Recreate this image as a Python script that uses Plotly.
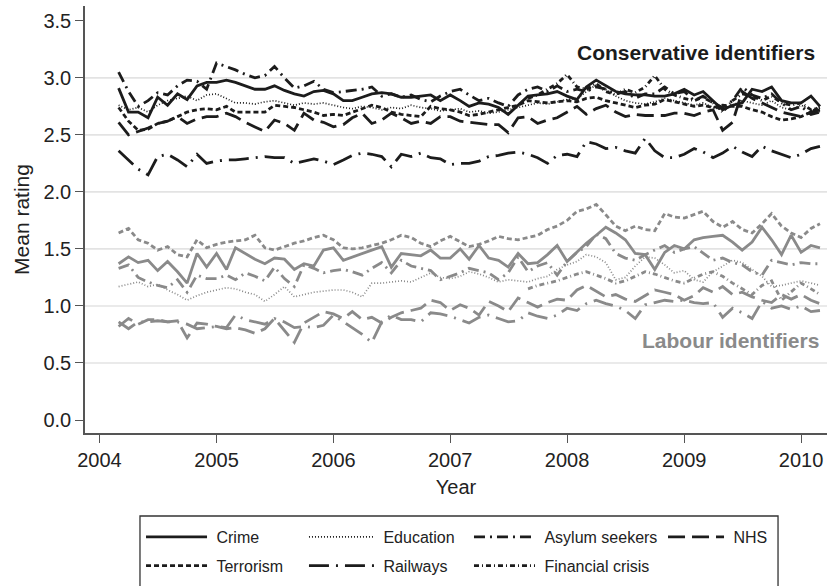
import pandas as pd
import plotly.graph_objects as go

# Monthly survey waves, March 2004 - March 2010
months = pd.date_range("2004-03-01", periods=73, freq="MS")
# Financial crisis item only asked from September 2007
fc_months = pd.date_range("2007-09-01", periods=31, freq="MS")

issues = ["Crime", "Education", "Asylum seekers", "NHS",
          "Terrorism", "Railways", "Financial crisis"]

# Conservative identifiers: mean ratings
con_crime = [
    2.91, 2.70, 2.70, 2.65, 2.83, 2.76, 2.86, 2.81, 2.93, 2.96,
    2.96, 2.98, 2.96, 2.93, 2.90, 2.90, 2.93, 2.89, 2.86, 2.84,
    2.88, 2.89, 2.86, 2.80, 2.80, 2.83, 2.86, 2.87, 2.86, 2.83,
    2.83, 2.84, 2.85, 2.80, 2.85, 2.80, 2.75, 2.78, 2.77, 2.74,
    2.68, 2.76, 2.84, 2.85, 2.86, 2.88, 2.84, 2.81, 2.92, 2.98,
    2.93, 2.88, 2.86, 2.85, 2.85, 2.84, 2.84, 2.86, 2.90, 2.85,
    2.88, 2.80, 2.72, 2.76, 2.78, 2.90, 2.88, 2.92, 2.80, 2.78,
    2.78, 2.84, 2.75]
con_education = [
    2.76, 2.72, 2.74, 2.70, 2.76, 2.80, 2.82, 2.84, 2.80, 2.85,
    2.86, 2.82, 2.78, 2.78, 2.77, 2.79, 2.80, 2.78, 2.76, 2.78,
    2.77, 2.78, 2.76, 2.74, 2.73, 2.75, 2.74, 2.72, 2.74, 2.73,
    2.76, 2.74, 2.73, 2.71, 2.72, 2.73, 2.70, 2.71, 2.69, 2.70,
    2.72, 2.74, 2.76, 2.78, 2.77, 2.79, 2.81, 2.82, 2.88, 2.94,
    2.90, 2.84, 2.80, 2.78, 2.77, 2.79, 2.82, 2.80, 2.78, 2.76,
    2.78, 2.74, 2.72, 2.76, 2.80, 2.78, 2.76, 2.80, 2.74, 2.72,
    2.76, 2.72, 2.70]
con_asylum = [
    3.05, 2.88, 2.75, 2.80, 2.87, 2.85, 2.93, 2.98, 2.97, 2.90,
    3.13, 3.10, 3.07, 3.03, 3.00, 3.02, 3.10, 3.00, 2.91, 2.93,
    2.97, 2.90, 2.87, 2.88, 2.89, 2.90, 2.92, 2.84, 2.86, 2.83,
    2.85, 2.81, 2.79, 2.84, 2.88, 2.90, 2.85, 2.80, 2.82, 2.78,
    2.75, 2.85, 2.90, 2.92, 2.88, 2.93, 2.88, 2.90, 2.88, 2.92,
    2.90, 2.86, 2.88, 2.82, 2.86, 2.86, 2.92, 2.86, 2.88, 2.80,
    2.84, 2.78, 2.74, 2.80, 2.92, 2.85, 2.82, 2.86, 2.78, 2.72,
    2.75, 2.68, 2.70]
con_nhs = [
    2.61, 2.50, 2.53, 2.56, 2.60, 2.62, 2.66, 2.60, 2.64, 2.66,
    2.66, 2.69, 2.66, 2.61, 2.57, 2.53, 2.63, 2.60, 2.54, 2.69,
    2.63, 2.61, 2.57, 2.59, 2.65, 2.69, 2.60, 2.63, 2.69, 2.65,
    2.60, 2.62, 2.60, 2.66, 2.66, 2.62, 2.61, 2.60, 2.59, 2.59,
    2.52, 2.65, 2.66, 2.60, 2.63, 2.65, 2.70, 2.75, 2.68, 2.73,
    2.76, 2.70, 2.66, 2.68, 2.67, 2.67, 2.67, 2.69, 2.69, 2.67,
    2.70, 2.72, 2.54, 2.61, 2.88, 2.82, 2.78, 2.74, 2.70, 2.68,
    2.66, 2.70, 2.72]
con_terrorism = [
    2.74, 2.62, 2.54, 2.55, 2.60, 2.62, 2.66, 2.70, 2.72, 2.73,
    2.72, 2.75, 2.70, 2.70, 2.70, 2.70, 2.76, 2.75, 2.74, 2.72,
    2.70, 2.67, 2.68, 2.67, 2.70, 2.73, 2.76, 2.74, 2.70, 2.68,
    2.67, 2.66, 2.75, 2.73, 2.72, 2.70, 2.67, 2.68, 2.70, 2.72,
    2.74, 2.76, 2.80, 2.79, 2.78, 2.79, 2.80, 2.79, 2.82, 2.83,
    2.80, 2.78, 2.76, 2.74, 2.76, 2.77, 2.81, 2.79, 2.77, 2.75,
    2.76, 2.74, 2.76, 2.75, 2.75, 2.72, 2.70, 2.66, 2.63, 2.64,
    2.66, 2.70, 2.75]
con_railways = [
    2.36, 2.28, 2.20, 2.15, 2.31, 2.33, 2.28, 2.22, 2.33, 2.25,
    2.27, 2.28, 2.28, 2.29, 2.30, 2.31, 2.30, 2.30, 2.25, 2.27,
    2.29, 2.27, 2.24, 2.28, 2.32, 2.34, 2.33, 2.31, 2.22, 2.33,
    2.31, 2.34, 2.30, 2.29, 2.24, 2.25, 2.25, 2.27, 2.31, 2.32,
    2.34, 2.35, 2.33, 2.30, 2.25, 2.32, 2.33, 2.31, 2.44, 2.42,
    2.38, 2.39, 2.36, 2.34, 2.47, 2.36, 2.30, 2.30, 2.33, 2.38,
    2.35, 2.30, 2.34, 2.40, 2.35, 2.31, 2.40, 2.36, 2.33, 2.30,
    2.33, 2.38, 2.40]
con_financial = [
    2.82, 2.85, 2.90, 2.95, 3.03, 2.92, 2.90, 2.95, 2.88, 2.85,
    2.90, 2.87, 2.92, 3.02, 2.90, 2.85, 2.82, 2.80, 2.83, 2.78,
    2.70, 2.80, 2.86, 2.84, 2.80, 2.84, 2.78, 2.76, 2.78, 2.72,
    2.74]

# Labour identifiers: mean ratings
lab_crime = [
    1.37, 1.43, 1.38, 1.40, 1.31, 1.39, 1.30, 1.20, 1.46, 1.34,
    1.46, 1.32, 1.51, 1.46, 1.41, 1.37, 1.42, 1.41, 1.32, 1.37,
    1.35, 1.49, 1.51, 1.40, 1.43, 1.46, 1.49, 1.52, 1.34, 1.46,
    1.45, 1.44, 1.49, 1.42, 1.42, 1.50, 1.41, 1.53, 1.42, 1.40,
    1.34, 1.46, 1.37, 1.38, 1.45, 1.53, 1.39, 1.47, 1.55, 1.62,
    1.69, 1.64, 1.58, 1.46, 1.45, 1.32, 1.47, 1.53, 1.50, 1.58,
    1.60, 1.61, 1.62, 1.56, 1.49, 1.56, 1.69, 1.58, 1.45, 1.62,
    1.47, 1.53, 1.51]
lab_education = [
    1.17, 1.19, 1.21, 1.17, 1.19, 1.14, 1.10, 1.05, 1.09, 1.12,
    1.14, 1.16, 1.15, 1.12, 1.10, 1.04, 1.10, 1.17, 1.08, 1.10,
    1.12, 1.13, 1.14, 1.14, 1.12, 1.08, 1.20, 1.20, 1.21, 1.22,
    1.21, 1.25, 1.29, 1.25, 1.24, 1.26, 1.30, 1.28, 1.25, 1.21,
    1.23, 1.22, 1.21, 1.24, 1.26, 1.32, 1.36, 1.39, 1.45, 1.43,
    1.38, 1.23, 1.25, 1.35, 1.43, 1.42, 1.36, 1.29, 1.31, 1.23,
    1.21, 1.30, 1.35, 1.40, 1.38, 1.32, 1.26, 1.17, 1.18, 1.20,
    1.22, 1.20, 1.18]
lab_asylum = [
    1.33, 1.36, 1.25, 1.21, 1.18, 1.16, 1.23, 1.12, 1.27, 1.24,
    1.24, 1.27, 1.23, 1.29, 1.26, 1.22, 1.34, 1.24, 1.17, 1.36,
    1.33, 1.29, 1.31, 1.32, 1.30, 1.27, 1.33, 1.38, 1.29, 1.40,
    1.35, 1.33, 1.31, 1.23, 1.26, 1.29, 1.33, 1.31, 1.29, 1.23,
    1.29, 1.43, 1.30, 1.35, 1.38, 1.27, 1.39, 1.47, 1.52, 1.63,
    1.59, 1.46, 1.42, 1.40, 1.45, 1.49, 1.53, 1.47, 1.50, 1.52,
    1.46, 1.40, 1.42, 1.38, 1.36, 1.30, 1.27, 1.40, 1.38, 1.36,
    1.38, 1.37, 1.37]
lab_nhs = [
    0.82, 0.89, 0.84, 0.88, 0.88, 0.86, 0.87, 0.72, 0.85, 0.84,
    0.82, 0.80, 0.81, 0.79, 0.76, 0.80, 0.89, 0.79, 0.68, 0.85,
    0.90, 0.95, 0.93, 0.89, 0.95, 0.88, 0.90, 0.85, 0.90, 0.94,
    0.96, 0.98, 1.05, 1.03, 0.96, 1.01, 0.98, 0.92, 1.04, 1.00,
    0.95, 1.07, 1.03, 0.99, 1.03, 1.06, 1.05, 1.14, 1.18, 1.13,
    1.08, 1.10, 1.06, 1.04, 1.09, 1.14, 1.12, 1.10, 1.05, 1.09,
    1.16, 1.12, 1.17, 1.10, 1.12, 1.08, 1.05, 1.03, 1.10, 1.06,
    1.10, 1.05, 1.02]
lab_terrorism = [
    1.64, 1.68, 1.58, 1.55, 1.49, 1.52, 1.45, 1.43, 1.58, 1.51,
    1.54, 1.56, 1.57, 1.58, 1.62, 1.51, 1.49, 1.52, 1.55, 1.57,
    1.60, 1.62, 1.58, 1.51, 1.50, 1.51, 1.53, 1.55, 1.58, 1.62,
    1.60, 1.55, 1.52, 1.57, 1.61, 1.56, 1.52, 1.54, 1.57, 1.61,
    1.59, 1.58, 1.60, 1.62, 1.67, 1.70, 1.75, 1.83, 1.85, 1.89,
    1.80, 1.70, 1.66, 1.70, 1.67, 1.66, 1.81, 1.78, 1.77, 1.80,
    1.83, 1.74, 1.69, 1.74, 1.67, 1.64, 1.72, 1.81, 1.70, 1.64,
    1.60, 1.68, 1.72]
lab_railways = [
    0.86, 0.80, 0.86, 0.86, 0.87, 0.86, 0.86, 0.84, 0.80, 0.81,
    0.82, 0.81, 0.92, 0.88, 0.86, 0.84, 0.89, 0.86, 0.81, 0.82,
    0.81, 0.83, 0.92, 0.86, 0.81, 0.75, 0.68, 0.86, 0.92, 0.88,
    0.88, 0.86, 0.94, 0.93, 0.91, 0.88, 0.85, 0.90, 0.92, 0.89,
    0.86, 0.87, 0.94, 0.91, 0.89, 0.92, 0.98, 0.96, 1.02, 1.05,
    1.02, 1.00, 0.96, 0.89, 1.01, 1.03, 1.05, 1.04, 1.05, 1.03,
    1.02, 1.03, 0.90, 0.98, 0.94, 0.89, 1.04, 0.98, 1.00, 0.97,
    1.00, 0.95, 0.96]
lab_financial = [
    1.15, 1.18, 1.20, 1.22, 1.25, 1.28, 1.30, 1.27, 1.24, 1.20,
    1.22, 1.26, 1.30, 1.28, 1.25, 1.22, 1.20, 1.24, 1.28, 1.30,
    1.26, 1.20, 1.15, 1.10, 1.18, 1.22, 1.05, 1.12, 1.20, 1.15,
    1.10]

y_ticks = [0.0, 0.5, 1.0, 1.5, 2.0, 2.5, 3.0, 3.5]
grid_levels = [0.5, 1.0, 1.5, 2.0, 2.5, 3.0]

BLACK = "#1c1c1c"
GREY = "#8a8a8a"
FONT = "Liberation Sans, Arial, Helvetica, sans-serif"

dash_styles = {
    "Crime": ("solid", 2.8),
    "Education": ("1px,2px", 1.7),
    "Asylum seekers": ("11px,5px,2px,5px", 2.8),
    "NHS": ("17px,7px", 2.8),
    "Terrorism": ("5px,3px", 2.8),
    "Railways": ("20px,7px,2px,7px", 2.8),
    "Financial crisis": ("5px,3px,1px,3px", 2.8),
}

# key laid out as four columns of a two-row box
legend_column = {
    "Crime": "legend", "Terrorism": "legend",
    "Education": "legend2", "Railways": "legend2",
    "Asylum seekers": "legend3", "Financial crisis": "legend3",
    "NHS": "legend4",
}

con_series = {
    "Crime": (months, con_crime),
    "Education": (months, con_education),
    "Asylum seekers": (months, con_asylum),
    "NHS": (months, con_nhs),
    "Terrorism": (months, con_terrorism),
    "Railways": (months, con_railways),
    "Financial crisis": (fc_months, con_financial),
}
lab_series = {
    "Crime": (months, lab_crime),
    "Education": (months, lab_education),
    "Asylum seekers": (months, lab_asylum),
    "NHS": (months, lab_nhs),
    "Terrorism": (months, lab_terrorism),
    "Railways": (months, lab_railways),
    "Financial crisis": (fc_months, lab_financial),
}

fig = go.Figure()

for name in issues:
    dash, width = dash_styles[name]
    x, y = lab_series[name]
    fig.add_trace(go.Scatter(
        x=x, y=y, mode="lines", name=name, showlegend=False,
        legendgroup=name,
        line=dict(color=GREY, width=width, dash=dash),
        hoverinfo="skip"))

for name in issues:
    dash, width = dash_styles[name]
    x, y = con_series[name]
    fig.add_trace(go.Scatter(
        x=x, y=y, mode="lines", name="\u00a0" + name, showlegend=True,
        legend=legend_column[name], legendgroup=name,
        line=dict(color=BLACK, width=width, dash=dash),
        hoverinfo="skip"))

shapes = [
    dict(type="line", xref="paper", x0=0, x1=1, yref="y", y0=g, y1=g,
         line=dict(color="#e3e3e3", width=1.6), layer="below")
    for g in grid_levels
]
# frame around the key
shapes.append(dict(type="rect", xref="paper", yref="paper",
                   x0=0.0741, x1=0.934, y0=-0.1944, y1=-0.40,
                   line=dict(color="#333333", width=1.3),
                   fillcolor="rgba(0,0,0,0)"))


def key(xpos, item_w):
    return dict(
        orientation="v", x=xpos, xanchor="left", y=-0.2037, yanchor="top",
        bgcolor="rgba(0,0,0,0)", borderwidth=0,
        font=dict(family=FONT, size=16, color="#222222"),
        itemwidth=item_w, tracegroupgap=5, traceorder="grouped",
    )


fig.update_layout(
    width=827, height=586,
    margin=dict(l=85, r=0, t=6, b=153, autoexpand=False),
    paper_bgcolor="white", plot_bgcolor="white",
    font=dict(family=FONT, size=20, color="#222222"),
    shapes=shapes,
    showlegend=True,
    legend=key(0.0755, 61),
    legend2=key(0.2951, 65),
    legend3=key(0.5175, 61),
    legend4=key(0.7790, 56),
    annotations=[
        dict(text="<b>Conservative identifiers</b>", xref="paper", yref="y",
             x=0.987, y=3.22, xanchor="right", yanchor="middle",
             showarrow=False, font=dict(family=FONT, size=21, color=BLACK)),
        dict(text="<b>Labour identifiers</b>", xref="paper", yref="y",
             x=0.992, y=0.70, xanchor="right", yanchor="middle",
             showarrow=False, font=dict(family=FONT, size=21, color=GREY)),
    ],
)

fig.update_xaxes(
    type="date",
    range=["2003-11-17", "2010-03-23"],
    tickvals=[f"{yr}-01-01" for yr in range(2004, 2011)],
    ticktext=[str(yr) for yr in range(2004, 2011)],
    ticks="outside", ticklen=8, tickwidth=1.2, tickcolor="#555555",
    showline=True, linecolor="#555555", linewidth=1.6,
    showgrid=False, zeroline=False,
    title=dict(text="Year", standoff=10, font=dict(size=20)),
    tickfont=dict(size=20),
)
fig.update_yaxes(
    range=[-0.114, 3.63],
    tickvals=y_ticks,
    ticktext=[f"{v:.1f}" for v in y_ticks],
    ticks="outside", ticklen=8, tickwidth=1.2, tickcolor="#555555",
    showline=True, linecolor="#555555", linewidth=1.6,
    showgrid=False, zeroline=False,
    title=dict(text="Mean rating", standoff=8, font=dict(size=21)),
    tickfont=dict(size=20),
)

fig.write_html("out.html")
